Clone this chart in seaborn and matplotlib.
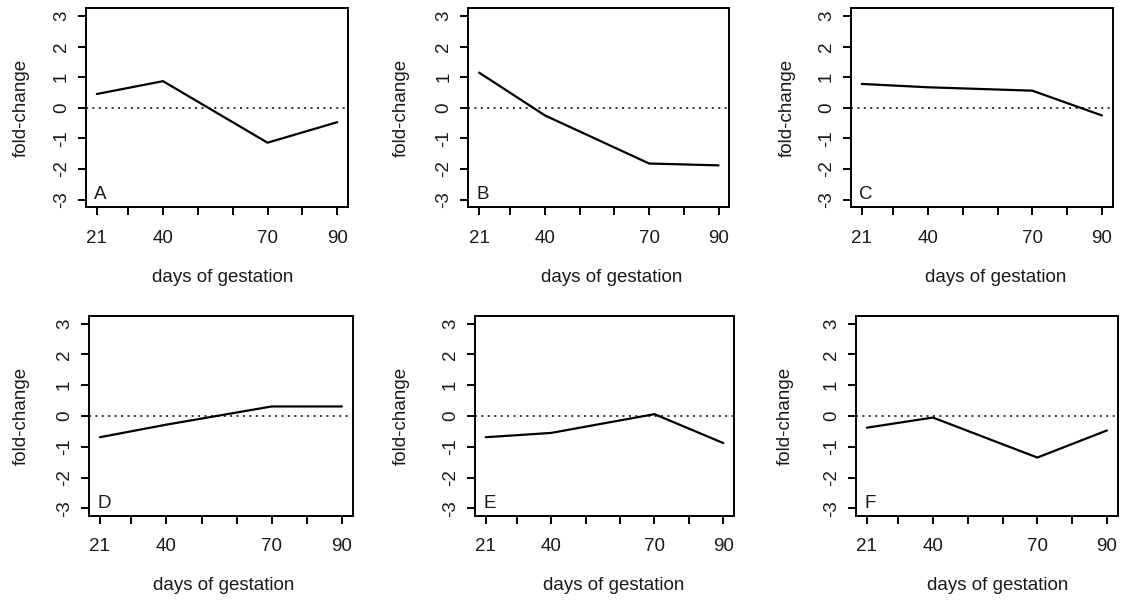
import numpy as np
import pandas as pd
import matplotlib
matplotlib.use("Agg")
import matplotlib.pyplot as plt
import seaborn as sns

# ---- data ----
days = [21, 40, 70, 90]
panel_names = ["A", "B", "C", "D", "E", "F"]
fc_A = [0.45, 0.87, -1.14, -0.47]
fc_B = [1.15, -0.25, -1.82, -1.88]
fc_C = [0.78, 0.67, 0.56, -0.25]
fc_D = [-0.69, -0.28, 0.31, 0.31]
fc_E = [-0.69, -0.55, 0.06, -0.88]
fc_F = [-0.38, -0.05, -1.35, -0.47]
series = [fc_A, fc_B, fc_C, fc_D, fc_E, fc_F]

x_tick_pos = [21, 30, 40, 50, 60, 70, 80, 90]
x_tick_labels = ["21", "", "40", "", "", "70", "", "90"]
y_ticks = [-3, -2, -1, 0, 1, 2, 3]
y_tick_labels = ["-3", "-2", "-1", "0", "1", "2", "3"]
x_title = "days of gestation"
y_title = "fold-change"

# ---- layout (pixel boxes: left, right, top, bottom) ----
W, H = 1132, 603
boxes = [
    (86, 348, 8.3, 207.3),
    (468.3, 729.3, 8.3, 207.3),
    (851, 1112.7, 8.3, 207.3),
    (89, 352.7, 316, 516),
    (475, 734, 316, 516),
    (856, 1117.7, 316, 516),
]
xlab_center = [0.52, 0.55, 0.553, 0.51, 0.534, 0.542]
ylab_offset_px = [-64.3, -66.6, -63.5, -67.3, -73.3, -71.0]

sns.set_style("ticks")
plt.rcParams["font.family"] = ["Liberation Sans", "DejaVu Sans"]
plt.rcParams["font.size"] = 13.5
txt_color = "#1a1a1a"
fs = 13.5

fig = plt.figure(figsize=(W / 100, H / 100), dpi=100)
fig.patch.set_facecolor("white")

for i, (name, vals) in enumerate(zip(panel_names, series)):
    l, r, t, b = boxes[i]
    ax = fig.add_axes([l / W, 1 - b / H, (r - l) / W, (b - t) / H])
    df = pd.DataFrame({"day": days, "fc": vals})
    ax.axhline(0, color="#333333", lw=1.4, ls=(0, (1, 2.3)), zorder=1)
    sns.lineplot(data=df, x="day", y="fc", ax=ax, color="black", lw=1.6,
                 zorder=2, estimator=None, sort=False)
    ax.set_xlim(17.9, 93.1)
    ax.set_ylim(-3.25, 3.25)
    ax.set_xticks(x_tick_pos)
    ax.set_xticklabels(x_tick_labels, color=txt_color)
    ax.set_yticks(y_ticks)
    ax.set_yticklabels(y_tick_labels, rotation=90, va="center", color=txt_color)
    ax.tick_params(axis="both", which="both", direction="out", length=6,
                   width=1.4, color="black", labelsize=fs,
                   bottom=True, left=True, top=False, right=False)
    ax.tick_params(axis="x", pad=10)
    ax.tick_params(axis="y", pad=5.5)
    for sp in ax.spines.values():
        sp.set_visible(True)
        sp.set_color("black")
        sp.set_linewidth(1.4)
    ax.set_xlabel(x_title, fontsize=fs, color=txt_color, va="center")
    ax.xaxis.set_label_coords(xlab_center[i], -70 / (b - t))
    ax.set_ylabel(y_title, fontsize=fs, color=txt_color, va="center")
    ax.yaxis.set_label_coords(ylab_offset_px[i] / (r - l), 0.5)
    ax.text(20.3, -2.83, name, ha="left", va="center", fontsize=fs,
            color=txt_color)
    ax.grid(False)

fig.savefig("out.png", dpi=100, facecolor="white")
